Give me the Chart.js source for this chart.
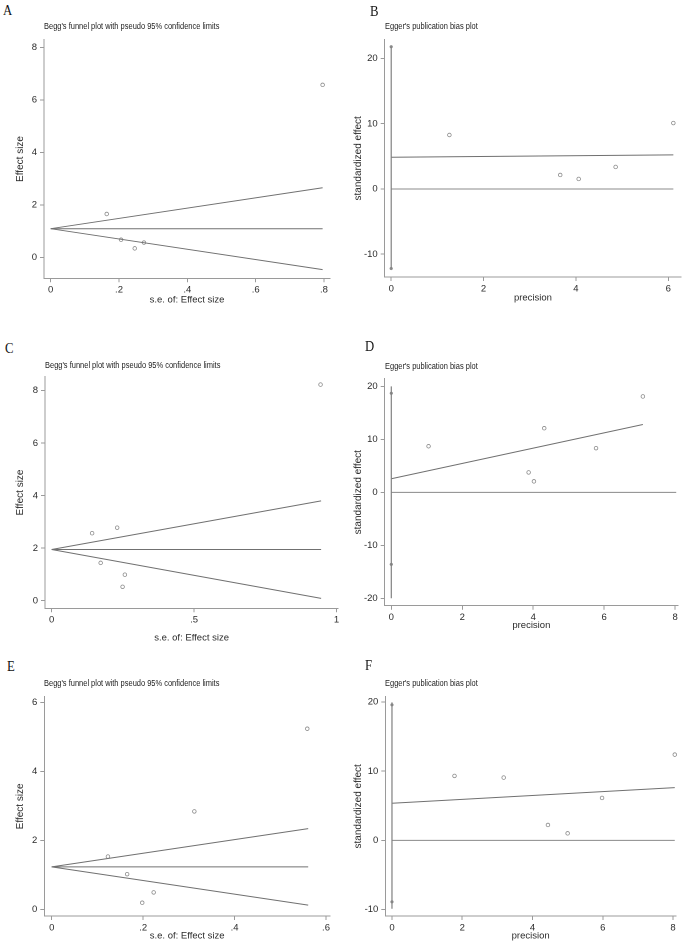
<!DOCTYPE html>
<html><head><meta charset="utf-8">
<script src="https://cdn.jsdelivr.net/npm/chart.js@4.4.1/dist/chart.umd.min.js"></script>
<style>
html,body{margin:0;padding:0;background:#fff;}
#wrap{position:relative;width:686px;height:944px;overflow:hidden;background:#fff;}
canvas{position:absolute;}
.lt{position:absolute;font-family:"Liberation Serif","Times New Roman",serif;font-size:15px;line-height:15px;color:#111;transform:scaleX(0.85);transform-origin:left top;}
.tt{position:absolute;font-family:"Liberation Sans",Arial,sans-serif;font-size:9px;line-height:12px;color:#222;white-space:nowrap;transform:scaleX(0.83);transform-origin:left top;}
</style></head><body><div id="wrap"></div>
<script>
// ---------- DATA ----------
// Panel A: Begg's funnel plot
const A_se = [0.164, 0.206, 0.246, 0.273, 0.796];
const A_effect = [1.65, 0.67, 0.34, 0.56, 6.57];
const A_funnelSe = [0, 0.796];
const A_center = [1.09, 1.09];
const A_upper = [1.09, 2.65];
const A_lower = [1.09, -0.47];
const A_xTicks = [0, 0.2, 0.4, 0.6, 0.8];
const A_xTickLabels = ['0', '.2', '.4', '.6', '.8'];
const A_yTicks = [0, 2, 4, 6, 8];
const A_yTickLabels = ['0', '2', '4', '6', '8'];

// Panel B: Egger's plot
const B_precision = [1.26, 3.66, 4.06, 4.86, 6.11];
const B_stdEffect = [8.27, 2.14, 1.53, 3.37, 10.1];
const B_ciLine = [-12.2, 21.8];
const B_ciMarks = [-12.2, 21.8];
const B_regX = [0, 6.11];
const B_regY = [4.85, 5.22];
const B_zeroX = [0, 6.11];
const B_xTicks = [0, 2, 4, 6];
const B_xTickLabels = ['0', '2', '4', '6'];
const B_yTicks = [-10, 0, 10, 20];
const B_yTickLabels = ['-10', '0', '10', '20'];

// Panel C: Begg's funnel plot
const C_se = [0.142, 0.172, 0.230, 0.249, 0.257, 0.944];
const C_effect = [2.57, 1.44, 2.78, 0.53, 0.99, 8.23];
const C_funnelSe = [0, 0.946];
const C_center = [1.95, 1.95];
const C_upper = [1.95, 3.80];
const C_lower = [1.95, 0.09];
const C_xTicks = [0, 0.5, 1];
const C_xTickLabels = ['0', '.5', '1'];
const C_yTicks = [0, 2, 4, 6, 8];
const C_yTickLabels = ['0', '2', '4', '6', '8'];

// Panel D: Egger's plot
const D_precision = [1.05, 3.87, 4.02, 4.31, 5.77, 7.09];
const D_stdEffect = [8.7, 3.76, 2.07, 12.1, 8.34, 18.1];
const D_ciLine = [-20, 20];
const D_ciMarks = [-13.6, 18.7];
const D_regX = [0, 7.09];
const D_regY = [2.57, 12.8];
const D_zeroX = [0, 8.03];
const D_xTicks = [0, 2, 4, 6, 8];
const D_xTickLabels = ['0', '2', '4', '6', '8'];
const D_yTicks = [-20, -10, 0, 10, 20];
const D_yTickLabels = ['-20', '-10', '0', '10', '20'];

// Panel E: Begg's funnel plot
const E_se = [0.123, 0.165, 0.198, 0.223, 0.312, 0.559];
const E_effect = [1.53, 1.02, 0.19, 0.49, 2.84, 5.24];
const E_funnelSe = [0, 0.561];
const E_center = [1.23, 1.23];
const E_upper = [1.23, 2.34];
const E_lower = [1.23, 0.12];
const E_xTicks = [0, 0.2, 0.4, 0.6];
const E_xTickLabels = ['0', '.2', '.4', '.6'];
const E_yTicks = [0, 2, 4, 6];
const E_yTickLabels = ['0', '2', '4', '6'];

// Panel F: Egger's plot
const F_precision = [1.78, 3.18, 4.44, 5.0, 5.98, 8.05];
const F_stdEffect = [9.32, 9.08, 2.22, 1.01, 6.13, 12.4];
const F_ciLine = [-9.9, 19.95];
const F_ciMarks = [-8.9, 19.6];
const F_regX = [0, 8.05];
const F_regY = [5.36, 7.63];
const F_zeroX = [0, 8.05];
const F_xTicks = [0, 2, 4, 6, 8];
const F_xTickLabels = ['0', '2', '4', '6', '8'];
const F_yTicks = [-10, 0, 10, 20];
const F_yTickLabels = ['-10', '0', '10', '20'];

const BEGG_TITLE = "Begg's funnel plot with pseudo 95% confidence limits";
const EGGER_TITLE = "Egger's publication bias plot";

// ---------- LAYOUT / STYLE ----------
const NARROW = '"Liberation Sans Narrow","Arial Narrow","Liberation Sans",Arial,sans-serif';
const SANS = '"Liberation Sans",Arial,sans-serif';
const AXIS_COLOR = '#9a9a9a';
const LINE_COLOR = '#707070';
const POINT_COLOR = '#8a8a8a';
const wrap = document.getElementById('wrap');

function zip(xs, ys) { return xs.map((x, i) => ({x: x, y: ys[i]})); }
function pts(x, ys) { return ys.map(y => ({x: x, y: y})); }

function lineDs(data, color, width) {
  return {data: data, showLine: true, borderColor: color, borderWidth: width, pointRadius: 0, fill: false, clip: false};
}
function pointDs(data) {
  return {data: data, showLine: false, pointStyle: 'circle', pointRadius: 1.8, clip: false,
    borderColor: POINT_COLOR, backgroundColor: 'rgba(255,255,255,0)', pointBorderWidth: 0.8};
}

function addText(cls, txt, x, y) {
  const d = document.createElement('div');
  d.className = cls; d.textContent = txt;
  d.style.left = x + 'px'; d.style.top = y + 'px';
  wrap.appendChild(d);
}

function makePanel(p) {
  const cl = p.col, cw = 343;
  const ct = Math.floor(p.t) - 8;
  const ch = Math.ceil(p.b + p.xTitleOff + 7) - ct;
  const xAxisH = ch - (p.b - ct);
  const yAxisW = p.l - cl;
  const cv = document.createElement('canvas');
  cv.style.left = cl + 'px'; cv.style.top = ct + 'px';
  cv.style.width = cw + 'px'; cv.style.height = ch + 'px';
  cv.width = cw; cv.height = ch;
  wrap.appendChild(cv);
  const titleBottomPad = xAxisH - p.xTitleOff - 5.4;
  new Chart(cv, {
    type: 'scatter',
    data: {datasets: p.datasets},
    options: {
      responsive: false, animation: false, devicePixelRatio: 2,
      layout: {padding: {left: 0, top: p.t - ct, right: cl + cw - p.r, bottom: 0}},
      plugins: {legend: {display: false}, tooltip: {enabled: false}},
      elements: {line: {tension: 0}},
      scales: {
        x: {
          type: 'linear', min: p.xMin, max: p.xMax,
          afterBuildTicks: s => { s.ticks = p.xTicks.map(v => ({value: v})); },
          afterFit: s => { s.height = xAxisH; },
          ticks: {autoSkip: false, maxRotation: 0, padding: 2, color: '#2a2a2a',
            font: {family: NARROW, size: 9.5},
            callback: (v, i) => p.xTickLabels[i]},
          grid: {drawOnChartArea: false, drawTicks: true, tickLength: 4, color: AXIS_COLOR, lineWidth: 1},
          border: {display: true, color: AXIS_COLOR, width: 1},
          title: {display: true, text: p.xTitle, color: '#2a2a2a',
            font: {family: NARROW, size: 9.5}, padding: {top: 0, bottom: titleBottomPad}}
        },
        y: {
          type: 'linear', min: p.yMin, max: p.yMax,
          afterBuildTicks: s => { s.ticks = p.yTicks.map(v => ({value: v})); },
          afterFit: s => { s.width = yAxisW; },
          ticks: {autoSkip: false, padding: 3, color: '#2a2a2a',
            font: {family: NARROW, size: 9.5},
            callback: (v, i) => p.yTickLabels[i]},
          grid: {drawOnChartArea: false, drawTicks: true, tickLength: 4, color: AXIS_COLOR, lineWidth: 1},
          border: {display: true, color: AXIS_COLOR, width: 1},
          title: {display: true, text: p.yTitle, color: '#2a2a2a',
            font: {family: SANS, size: 10}, padding: {top: p.yTitleX - 6, bottom: 0}}
        }
      }
    }
  });
  addText('lt', p.letter, p.letterX, p.letterY);
  addText('tt', p.title, p.l, p.titleY - 6);
}

function beggSets(se, eff, fse, c, up, lo) {
  return [
    lineDs(zip(fse, c), LINE_COLOR, 1),
    lineDs(zip(fse, up), LINE_COLOR, 1),
    lineDs(zip(fse, lo), LINE_COLOR, 1),
    pointDs(zip(se, eff))
  ];
}
function eggerSets(pr, se, ci, cm, rx, ry, zx) {
  return [
    lineDs(pts(0, ci), '#808080', 1.2),
    {data: pts(0, cm), showLine: false, pointStyle: 'circle', pointRadius: 1.4, clip: false,
      backgroundColor: '#8c8c8c', borderColor: '#8c8c8c', pointBorderWidth: 0.5},
    lineDs(zip(rx, ry), LINE_COLOR, 1),
    lineDs(zip(zx, [0, 0]), '#8a8a8a', 1),
    pointDs(zip(pr, se))
  ];
}

makePanel({col: 0, l: 44, t: 39, r: 330, b: 278.3, xMin: -0.0196, xMax: 0.8176, yMin: -0.80, yMax: 8.29,
  xTicks: A_xTicks, xTickLabels: A_xTickLabels, yTicks: A_yTicks, yTickLabels: A_yTickLabels,
  xTitle: 's.e. of: Effect size', yTitle: 'Effect size', xTitleOff: 22, yTitleX: 20,
  letter: 'A', letterX: 3, letterY: 2.5, title: BEGG_TITLE, titleY: 26,
  datasets: beggSets(A_se, A_effect, A_funnelSe, A_center, A_upper, A_lower)});

makePanel({col: 343, l: 384.7, t: 39, r: 684.7, b: 277, xMin: -0.141, xMax: 6.28, yMin: -13.5, yMax: 22.88,
  xTicks: B_xTicks, xTickLabels: B_xTickLabels, yTicks: B_yTicks, yTickLabels: B_yTickLabels,
  xTitle: 'precision', yTitle: 'standardized effect', xTitleOff: 21, yTitleX: 15,
  letter: 'B', letterX: 369.5, letterY: 4, title: EGGER_TITLE, titleY: 26,
  datasets: eggerSets(B_precision, B_stdEffect, B_ciLine, B_ciMarks, B_regX, B_regY, B_zeroX)});

makePanel({col: 0, l: 45, t: 376.7, r: 340, b: 608.3, xMin: -0.0234, xMax: 1.006, yMin: -0.29, yMax: 8.53,
  xTicks: C_xTicks, xTickLabels: C_xTickLabels, yTicks: C_yTicks, yTickLabels: C_yTickLabels,
  xTitle: 's.e. of: Effect size', yTitle: 'Effect size', xTitleOff: 30, yTitleX: 20,
  letter: 'C', letterX: 5, letterY: 340.7, title: BEGG_TITLE, titleY: 365,
  datasets: beggSets(C_se, C_effect, C_funnelSe, C_center, C_upper, C_lower)});

makePanel({col: 343, l: 384.7, t: 378, r: 678, b: 605.7, xMin: -0.186, xMax: 8.08, yMin: -21.4, yMax: 21.45,
  xTicks: D_xTicks, xTickLabels: D_xTickLabels, yTicks: D_yTicks, yTickLabels: D_yTickLabels,
  xTitle: 'precision', yTitle: 'standardized effect', xTitleOff: 20, yTitleX: 15,
  letter: 'D', letterX: 364.5, letterY: 339, title: EGGER_TITLE, titleY: 365.7,
  datasets: eggerSets(D_precision, D_stdEffect, D_ciLine, D_ciMarks, D_regX, D_regY, D_zeroX)});

makePanel({col: 0, l: 44.3, t: 696.7, r: 330, b: 916, xMin: -0.0162, xMax: 0.6087, yMin: -0.195, yMax: 6.17,
  xTicks: E_xTicks, xTickLabels: E_xTickLabels, yTicks: E_yTicks, yTickLabels: E_yTickLabels,
  xTitle: 's.e. of: Effect size', yTitle: 'Effect size', xTitleOff: 20, yTitleX: 20,
  letter: 'E', letterX: 7, letterY: 659, title: BEGG_TITLE, titleY: 683.3,
  datasets: beggSets(E_se, E_effect, E_funnelSe, E_center, E_upper, E_lower)});

makePanel({col: 343, l: 385.3, t: 696.7, r: 676, b: 916, xMin: -0.19, xMax: 8.085, yMin: -10.95, yMax: 20.78,
  xTicks: F_xTicks, xTickLabels: F_xTickLabels, yTicks: F_yTicks, yTickLabels: F_yTickLabels,
  xTitle: 'precision', yTitle: 'standardized effect', xTitleOff: 20, yTitleX: 15,
  letter: 'F', letterX: 364.5, letterY: 657.5, title: EGGER_TITLE, titleY: 683.3,
  datasets: eggerSets(F_precision, F_stdEffect, F_ciLine, F_ciMarks, F_regX, F_regY, F_zeroX)});
</script>
</body></html>
